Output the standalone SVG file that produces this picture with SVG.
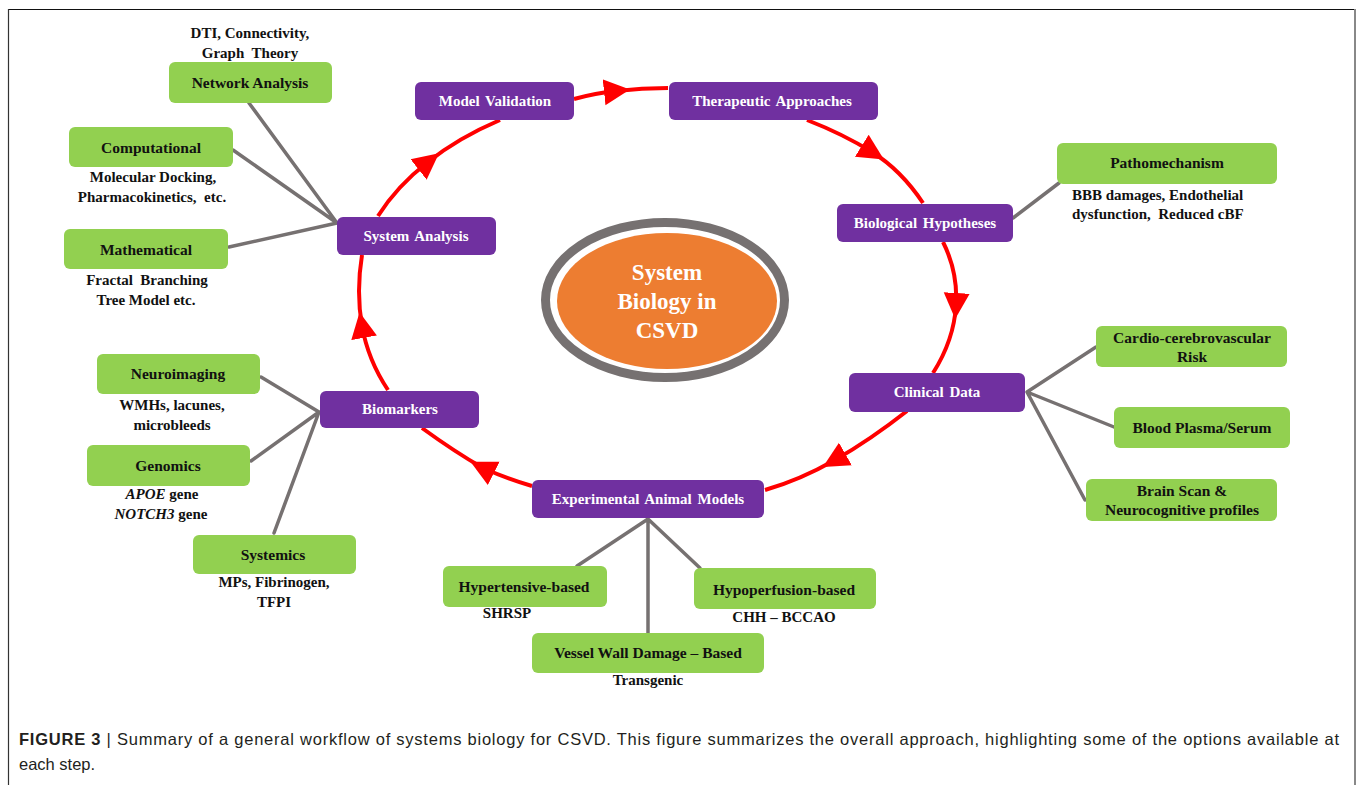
<svg xmlns="http://www.w3.org/2000/svg" width="1357" height="785" viewBox="0 0 1357 785">
<defs>
<style>
.pb{fill:#7030a0;}
.gb{fill:#92d050;}
.pt{font-family:"Liberation Serif","Times New Roman",serif;font-weight:bold;font-size:15px;fill:#ffffff;text-anchor:middle;word-spacing:2px;}
.gt{font-family:"Liberation Serif","Times New Roman",serif;font-weight:bold;font-size:15.5px;fill:#111111;text-anchor:middle;}
.st{font-family:"Liberation Serif","Times New Roman",serif;font-weight:bold;font-size:15px;fill:#111111;text-anchor:middle;}
.ct{font-family:"Liberation Serif","Times New Roman",serif;font-weight:bold;font-size:23px;fill:#ffffff;text-anchor:middle;}
.cap{font-family:"Liberation Sans",Arial,sans-serif;font-size:16.5px;fill:#231f20;}
.gl{stroke:#767171;stroke-width:3.5;fill:none;stroke-linecap:round;}
.rl{stroke:#ff0000;stroke-width:4;fill:none;marker-mid:url(#arr);}
</style>
<marker id="arr" markerUnits="userSpaceOnUse" markerWidth="28" markerHeight="28" refX="12" refY="13" orient="auto" viewBox="0 0 28 26">
<path d="M0,0 L26,13 L0,26 Z" fill="#ff0000"/>
</marker>
</defs>
<rect x="0" y="0" width="1357" height="785" fill="#ffffff"/>
<!-- frame -->
<line x1="8" y1="9.5" x2="1356" y2="9.5" stroke="#111" stroke-width="1.2"/>
<line x1="8.5" y1="9" x2="8.5" y2="785" stroke="#333" stroke-width="1.2"/>
<line x1="1355" y1="9" x2="1355" y2="785" stroke="#888" stroke-width="2"/>

<g id="connectors">
<!-- red cycle -->
<path class="rl" d="M574,99 Q596,93 616,91 Q642,88 668,88"/>
<path class="rl" d="M807,120 Q843,134 872,152 Q901,170 923,203"/>
<path class="rl" d="M943,242 Q958,272 956,305 Q954,340 933,373"/>
<path class="rl" d="M907,411 Q870,440 835,460 Q800,480 765,490"/>
<path class="rl" d="M532,486 Q510,480 483,468 Q455,452 422,428"/>
<path class="rl" d="M388,390 Q368,360 362,326 Q356,292 362,255"/>
<path class="rl" d="M378,216 Q397,186 428,162 Q458,138 500,120"/>
<!-- gray -->
<path class="gl" d="M337,223 L249,103 M337,223 L233,150 M337,223 L229,247"/>
<path class="gl" d="M1013,218 L1059,183"/>
<path class="gl" d="M1027,392 L1096,347 M1027,392 L1114,427 M1027,392 L1085,500"/>
<path class="gl" d="M319,412 L261,377 M319,412 L251,461 M319,412 L274,533"/>
<path class="gl" d="M648,519 L577,566 M648,519 L648,633 M648,519 L700,568"/>
</g>

<g id="center">
<ellipse cx="665" cy="300" rx="119.5" ry="77.5" fill="#ffffff" stroke="#767171" stroke-width="9"/>
<ellipse cx="667" cy="301" rx="110" ry="68" fill="#ed7d31"/>
<text class="ct" x="667" y="280">System</text>
<text class="ct" x="667" y="309">Biology in</text>
<text class="ct" x="667" y="338">CSVD</text>
</g>

<g id="model-validation"><rect class="pb" x="415" y="82" width="159" height="38" rx="6"/><text class="pt" x="495" y="106">Model Validation</text></g>
<g id="therapeutic-approaches"><rect class="pb" x="669" y="82" width="209" height="38" rx="6"/><text class="pt" x="772" y="106">Therapeutic Approaches</text></g>
<g id="biological-hypotheses"><rect class="pb" x="837" y="204" width="176" height="38" rx="6"/><text class="pt" x="925" y="228">Biological Hypotheses</text></g>
<g id="clinical-data"><rect class="pb" x="849" y="373" width="176" height="39" rx="6"/><text class="pt" x="937" y="397">Clinical Data</text></g>
<g id="experimental-animal-models"><rect class="pb" x="532" y="480" width="232" height="38" rx="6"/><text class="pt" x="648" y="504">Experimental Animal Models</text></g>
<g id="biomarkers"><rect class="pb" x="320" y="391" width="159" height="37" rx="6"/><text class="pt" x="400" y="414">Biomarkers</text></g>
<g id="system-analysis"><rect class="pb" x="337" y="217" width="159" height="38" rx="6"/><text class="pt" x="416" y="241">System Analysis</text></g>

<g id="network-analysis"><rect class="gb" x="169" y="62" width="163" height="41" rx="6"/><text class="gt" x="250" y="88">Network Analysis</text>
<text class="st" x="250" y="38">DTI, Connectivity,</text><text class="st" x="250" y="58">Graph&#160; Theory</text></g>
<g id="computational"><rect class="gb" x="69" y="127" width="164" height="40" rx="6"/><text class="gt" x="151" y="153">Computational</text>
<text class="st" x="153" y="182">Molecular Docking,</text><text class="st" x="152" y="202">Pharmacokinetics,&#160; etc.</text></g>
<g id="mathematical"><rect class="gb" x="64" y="229" width="164" height="40" rx="6"/><text class="gt" x="146" y="255">Mathematical</text>
<text class="st" x="147" y="285">Fractal&#160; Branching</text><text class="st" x="146" y="305">Tree Model etc.</text></g>
<g id="pathomechanism"><rect class="gb" x="1057" y="143" width="220" height="41" rx="6"/><text class="gt" x="1167" y="168">Pathomechanism</text>
<text class="st" x="1072" y="200" style="text-anchor:start">BBB damages, Endothelial</text><text class="st" x="1072" y="219" style="text-anchor:start">dysfunction,&#160; Reduced cBF</text></g>
<g id="cardio-risk"><rect class="gb" x="1096" y="326" width="191" height="41" rx="6"/><text class="gt" x="1192" y="343">Cardio-cerebrovascular</text><text class="gt" x="1192" y="362">Risk</text></g>
<g id="blood-plasma"><rect class="gb" x="1114" y="407" width="176" height="41" rx="6"/><text class="gt" x="1202" y="433">Blood Plasma/Serum</text></g>
<g id="brain-scan"><rect class="gb" x="1086" y="479" width="191" height="42" rx="6"/><text class="gt" x="1182" y="496">Brain Scan &amp;</text><text class="gt" x="1182" y="515">Neurocognitive profiles</text></g>
<g id="neuroimaging"><rect class="gb" x="97" y="354" width="163" height="40" rx="6"/><text class="gt" x="178" y="379">Neuroimaging</text>
<text class="st" x="172" y="410">WMHs, lacunes,</text><text class="st" x="172" y="430">microbleeds</text></g>
<g id="genomics"><rect class="gb" x="87" y="445" width="163" height="41" rx="6"/><text class="gt" x="168" y="471">Genomics</text>
<text class="st" x="162" y="499"><tspan font-style="italic">APOE</tspan> gene</text><text class="st" x="161" y="519"><tspan font-style="italic">NOTCH3</tspan> gene</text></g>
<g id="systemics"><rect class="gb" x="193" y="535" width="163" height="39" rx="6"/><text class="gt" x="273" y="560">Systemics</text>
<text class="st" x="274" y="587">MPs, Fibrinogen,</text><text class="st" x="274" y="607">TFPI</text></g>
<g id="hypertensive"><rect class="gb" x="443" y="566" width="164" height="41" rx="6"/><text class="gt" x="524" y="592">Hypertensive-based</text>
<text class="st" x="507" y="618">SHRSP</text></g>
<g id="hypoperfusion"><rect class="gb" x="694" y="568" width="182" height="41" rx="6"/><text class="gt" x="784" y="595">Hypoperfusion-based</text>
<text class="st" x="784" y="622">CHH – BCCAO</text></g>
<g id="vessel-wall"><rect class="gb" x="532" y="633" width="232" height="40" rx="6"/><text class="gt" x="648" y="658">Vessel Wall Damage – Based</text>
<text class="st" x="648" y="685">Transgenic</text></g>

<g id="caption">
<text class="cap" x="19" y="745" textLength="1320" lengthAdjust="spacing"><tspan font-weight="bold">FIGURE 3</tspan> | Summary of a general workflow of systems biology for CSVD. This figure summarizes the overall approach, highlighting some of the options available at</text>
<text class="cap" x="19" y="770">each step.</text>
</g>
</svg>
